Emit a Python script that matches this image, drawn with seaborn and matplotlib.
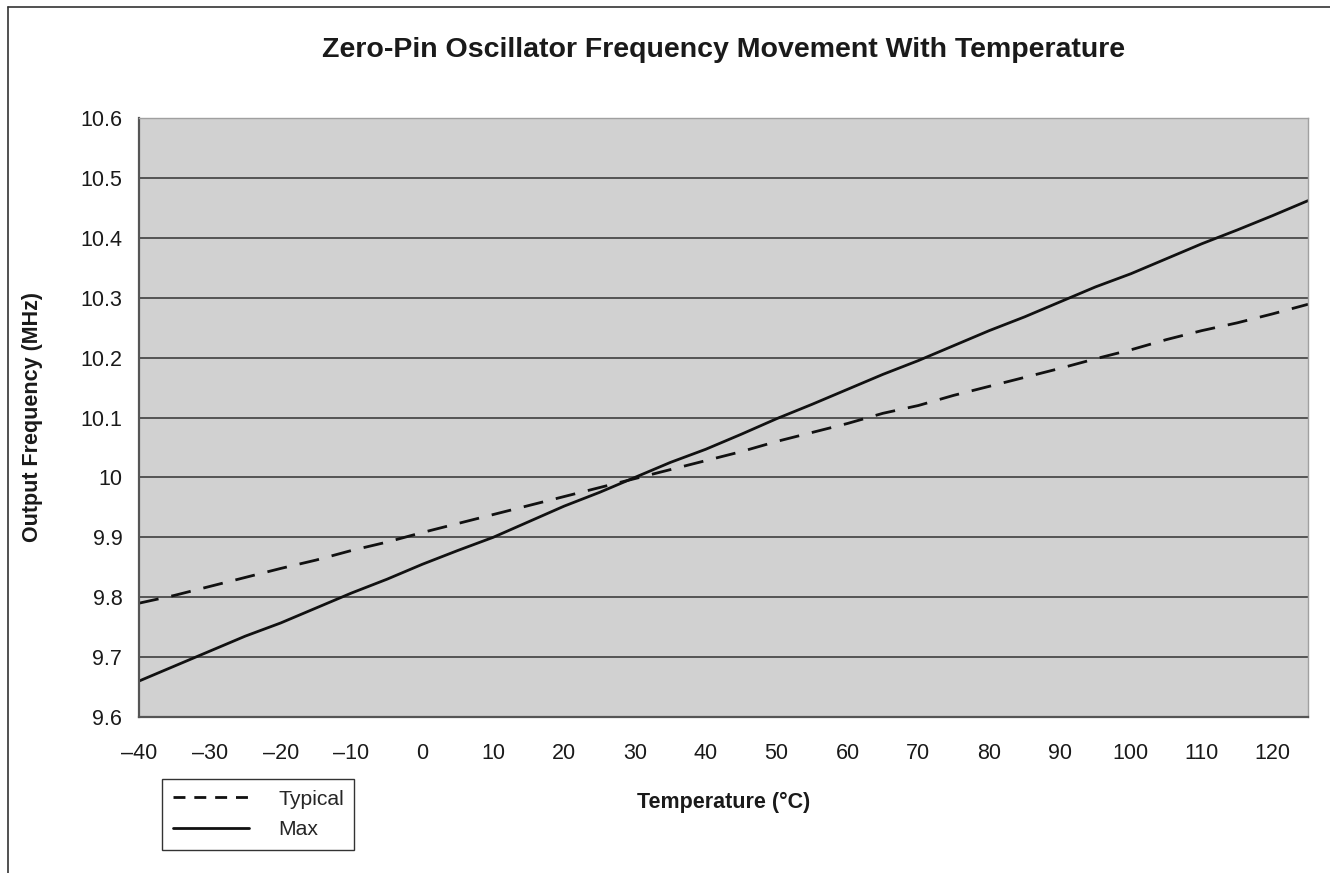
#!/usr/bin/env python3
"""
Zero-pin oscillator output frequency against temperature.
"""

import pandas as pd
import matplotlib.pyplot as plt
import matplotlib.ticker as mticker
from matplotlib.lines import Line2D
import seaborn as sns

# Data (5 degree steps)
temperature = [-40, -35, -30, -25, -20, -15, -10, -5, 0, 5, 10, 15, 20, 25, 30, 35, 40,
               45, 50, 55, 60, 65, 70, 75, 80, 85, 90, 95, 100, 105, 110, 115, 120, 125]
typical_mhz = [9.790, 9.803, 9.818, 9.833, 9.848, 9.862, 9.878, 9.892, 9.908, 9.923,
               9.938, 9.953, 9.968, 9.983, 9.998, 10.013, 10.028, 10.043, 10.060, 10.075,
               10.090, 10.107, 10.120, 10.137, 10.152, 10.167, 10.182, 10.198, 10.213,
               10.230, 10.245, 10.258, 10.273, 10.289]
max_mhz = [9.660, 9.685, 9.710, 9.735, 9.757, 9.782, 9.807, 9.830, 9.855, 9.878,
           9.900, 9.926, 9.952, 9.975, 10.000, 10.025, 10.047, 10.072, 10.098, 10.122,
           10.147, 10.172, 10.195, 10.220, 10.245, 10.268, 10.293, 10.318, 10.340,
           10.365, 10.390, 10.413, 10.437, 10.462]
series_names = ["Typical", "Max"]
x_ticks = list(range(-40, 121, 10))
y_ticks = [9.6, 9.7, 9.8, 9.9, 10.0, 10.1, 10.2, 10.3, 10.4, 10.5, 10.6]

W, H = 1330, 873

sns.set_style("white")
plt.rcParams["font.family"] = ["Liberation Sans", "DejaVu Sans"]


def build_frame():
    """Long-form table for seaborn."""
    rows = []
    for name, values in zip(series_names, [typical_mhz, max_mhz]):
        for t, v in zip(temperature, values):
            rows.append({"temp": t, "freq": v, "series": name})
    return pd.DataFrame(rows)


def main():
    df = build_frame()

    fig = plt.figure(figsize=(W / 100, H / 100), dpi=100)
    ax = fig.add_axes([139 / W, 1 - 717 / H, (1308 - 139) / W, (717 - 118) / H])
    ax.set_facecolor("#d1d1d1")

    sns.lineplot(data=df, x="temp", y="freq", style="series", style_order=series_names,
                 dashes={"Typical": (7.2, 4.7), "Max": ""}, color="#111111",
                 linewidth=2.0, ax=ax)

    handles, labels = ax.get_legend_handles_labels()
    ax.get_legend().remove()

    ax.set_xlim(-40, 125)
    ax.set_ylim(9.6, 10.6)
    ax.set_xticks(x_ticks)
    ax.set_yticks(y_ticks)
    ax.xaxis.set_major_formatter(mticker.FuncFormatter(
        lambda v, p: f"{v:g}".replace("-", "\u2013")))
    ax.yaxis.set_major_formatter(mticker.FuncFormatter(lambda v, p: f"{v:g}"))
    ax.tick_params(axis="both", direction="out", length=7, width=1.2,
                   color="#555555", labelsize=15.5, labelcolor="#1a1a1a")
    ax.tick_params(axis="x", pad=11.5)
    ax.tick_params(axis="y", pad=5)

    ax.yaxis.grid(True, color="#333333", linewidth=1.1)
    ax.xaxis.grid(False)
    ax.set_axisbelow(True)

    for side in ["left", "bottom"]:
        ax.spines[side].set_color("#555555")
        ax.spines[side].set_linewidth(1.6)
    for side in ["top", "right"]:
        ax.spines[side].set_color("#a0a0a0")
        ax.spines[side].set_linewidth(1.0)

    ax.set_xlabel("Temperature (°C)", fontsize=15.5, fontweight="bold", color="#1a1a1a")
    ax.set_ylabel("Output Frequency (MHz)", fontsize=15.5, fontweight="bold", color="#1a1a1a")
    ax.xaxis.set_label_coords(0.5, -(802 - 717) / (717 - 118))
    ax.xaxis.label.set_va("center")
    ax.yaxis.set_label_coords(-(139 - 33) / (1308 - 139), 0.5)
    ax.yaxis.label.set_va("center")

    fig.text(723.5 / W, 1 - 50 / H, "Zero-Pin Oscillator Frequency Movement With Temperature",
             ha="center", va="center", fontsize=20.5, fontweight="bold", color="#1a1a1a")

    # legend sits below the plot, left side
    for h in handles:
        if h.get_linestyle() not in ("-", "solid"):
            h.set_dashes((4.3, 3.2))
    leg = fig.legend(handles, labels, loc="upper left",
                     bbox_to_anchor=(162 / W, 1 - 779 / H), fontsize=15.2,
                     frameon=True, fancybox=False, edgecolor="#333333",
                     framealpha=1, handlelength=3.6, handletextpad=1.4,
                     labelspacing=0.55, borderpad=0.5, borderaxespad=0)
    leg.get_frame().set_linewidth(1.0)

    # outer frame (top and left edges)
    fig.add_artist(Line2D([8 / W, 1.0], [1 - 7 / H, 1 - 7 / H], color="#333333",
                          linewidth=1.2, transform=fig.transFigure))
    fig.add_artist(Line2D([8 / W, 8 / W], [1 - 7 / H, 0.0], color="#333333",
                          linewidth=1.2, transform=fig.transFigure))

    fig.savefig("out.png", dpi=100)
    plt.close(fig)


if __name__ == "__main__":
    main()
